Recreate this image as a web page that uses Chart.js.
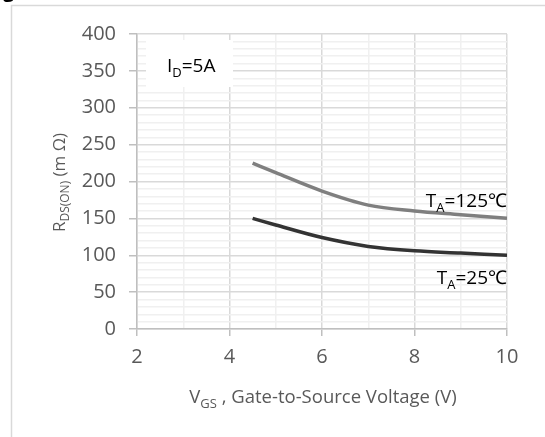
<!DOCTYPE html>
<html>
<head>
<meta charset="utf-8">
<script src="https://cdn.jsdelivr.net/npm/chart.js@4"></script>
<style>
  html, body { margin: 0; padding: 0; background: #fff; }
  #wrap { width: 545px; height: 437px; position: relative; }
</style>
</head>
<body>
<div id="wrap"><canvas id="rds_vs_vgs"></canvas></div>
<script>
const vgs = [4.5, 5, 6, 7, 8, 9, 10];
const rds_25c = [150, 141, 124, 112, 106, 103, 100];
const rds_125c = [225, 212, 187, 168, 160, 155, 150];
const x_ticks = [2, 4, 6, 8, 10];
const y_ticks = [0, 50, 100, 150, 200, 250, 300, 350, 400];

const FONT = '"Open Sans", "Liberation Sans", sans-serif';
const TEXT = '#595959';

// draw text with a subscript part, e.g. ['R', 'DS(ON)', ' (m Ω)']
function subText(ctx, parts, x, y, size, align) {
  const big = size + 'px ' + FONT;
  const small = Math.round(size * 0.68) + 'px ' + FONT;
  let w = 0;
  parts.forEach((p, i) => {
    ctx.font = i % 2 ? small : big;
    w += ctx.measureText(p).width;
  });
  let cx = align === 'center' ? x - w / 2 : align === 'right' ? x - w : x;
  ctx.textAlign = 'left';
  ctx.textBaseline = 'alphabetic';
  parts.forEach((p, i) => {
    ctx.font = i % 2 ? small : big;
    ctx.fillText(p, cx, y + (i % 2 ? size * 0.25 : 0));
    cx += ctx.measureText(p).width;
  });
}

const extras = {
  id: 'extras',
  beforeDraw(chart) {
    const ctx = chart.ctx;
    ctx.save();
    ctx.fillStyle = '#fff';
    ctx.fillRect(0, 0, chart.width, chart.height);
    ctx.strokeStyle = '#d9d9d9';
    ctx.lineWidth = 1.5;
    ctx.beginPath();
    ctx.moveTo(11.5, chart.height + 2);
    ctx.lineTo(11.5, 5.5);
    ctx.lineTo(chart.width + 2, 5.5);
    ctx.stroke();
    // bit of the figure title cut off above
    ctx.fillStyle = '#000';
    ctx.font = 'bold 20px ' + FONT;
    ctx.fillText('g', 3, -3);
    ctx.restore();
  },
  afterDatasetsDraw(chart) {
    const ctx = chart.ctx;
    const x = chart.scales.x, y = chart.scales.y;
    ctx.save();
    // I_D box
    ctx.fillStyle = '#fff';
    ctx.fillRect(146, 40, 87, 47);
    ctx.fillStyle = '#000';
    subText(ctx, ['I', 'D', '=5A'], 167, 72, 19, 'left');
    subText(ctx, ['T', 'A', '=125℃'], 507, 207, 19, 'right');
    subText(ctx, ['T', 'A', '=25℃'], 507, 284, 19, 'right');
    // axis titles
    ctx.fillStyle = TEXT;
    subText(ctx, ['V', 'GS', ' , Gate-to-Source Voltage (V)'], (x.left + x.right) / 2 + 1, 403, 18.5, 'center');
    ctx.translate(65, (y.top + y.bottom) / 2 + 1);
    ctx.rotate(-Math.PI / 2);
    subText(ctx, ['R', 'DS(ON)', ' (m Ω)'], 0, 0, 17, 'center');
    ctx.restore();
  }
};

const isMajorY = v => v % 50 === 0;
const isMajorX = v => v % 2 === 0;

new Chart(document.getElementById('rds_vs_vgs'), {
  type: 'line',
  data: {
    datasets: [{
      label: 'TA=125℃',
      data: vgs.map((v, i) => ({ x: v, y: rds_125c[i] })),
      borderColor: '#7f7f7f',
      borderWidth: 3.5,
      pointRadius: 0,
      cubicInterpolationMode: 'monotone'
    }, {
      label: 'TA=25℃',
      data: vgs.map((v, i) => ({ x: v, y: rds_25c[i] })),
      borderColor: '#333333',
      borderWidth: 3.5,
      pointRadius: 0,
      cubicInterpolationMode: 'monotone'
    }]
  },
  options: {
    responsive: true,
    maintainAspectRatio: false,
    animation: false,
    layout: { padding: { top: 34, right: 38, left: 0, bottom: 0 } },
    plugins: { legend: { display: false }, tooltip: { enabled: false } },
    scales: {
      x: {
        type: 'linear',
        min: x_ticks[0],
        max: x_ticks[x_ticks.length - 1],
        afterBuildTicks: axis => {
          axis.ticks = [];
          for (let v = x_ticks[0]; v <= x_ticks[x_ticks.length - 1]; v++) axis.ticks.push({ value: v });
        },
        afterFit: axis => { axis.height = 437 - 329; },
        border: { color: '#bfbfbf', width: 1.5 },
        grid: {
          color: c => isMajorX(c.tick.value) ? '#d9d9d9' : '#f0f0f0',
          lineWidth: 1.5,
          tickLength: 7,
          tickColor: c => isMajorX(c.tick.value) ? '#bfbfbf' : 'rgba(0,0,0,0)'
        },
        ticks: {
          autoSkip: false,
          maxRotation: 0,
          padding: 9,
          color: TEXT,
          font: { family: FONT, size: 20 },
          callback: v => x_ticks.includes(v) ? v : ''
        }
      },
      y: {
        min: y_ticks[0],
        max: y_ticks[y_ticks.length - 1],
        afterBuildTicks: axis => {
          axis.ticks = [];
          for (let v = y_ticks[0]; v <= y_ticks[y_ticks.length - 1]; v += 10) axis.ticks.push({ value: v });
        },
        afterFit: axis => { axis.width = 137; },
        border: { color: '#bfbfbf', width: 1.5 },
        grid: {
          color: c => isMajorY(c.tick.value) ? '#d9d9d9' : '#f0f0f0',
          lineWidth: 1.5,
          tickLength: 8,
          tickColor: c => isMajorY(c.tick.value) ? '#bfbfbf' : 'rgba(0,0,0,0)'
        },
        ticks: {
          autoSkip: false,
          padding: 13,
          color: TEXT,
          font: { family: FONT, size: 20 },
          callback: v => y_ticks.includes(v) ? v : ''
        }
      }
    }
  },
  plugins: [extras]
});
</script>
</body>
</html>
